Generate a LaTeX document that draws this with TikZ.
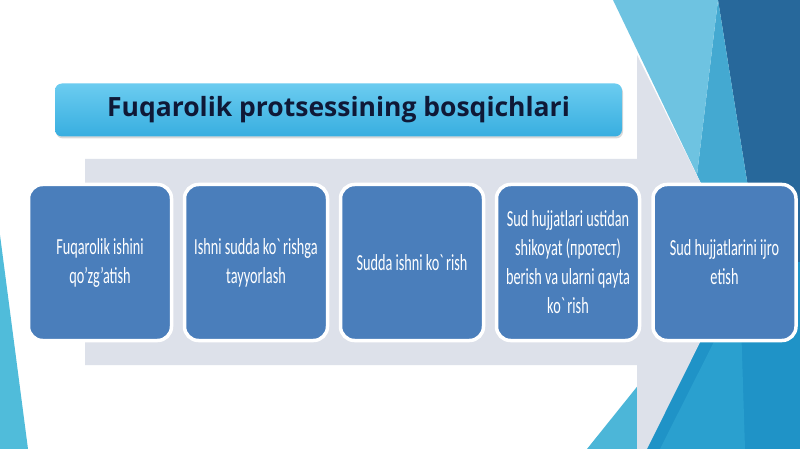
\documentclass[tikz,border=0pt]{standalone}
\usepackage{fontspec}
\usetikzlibrary{shadows}
\newfontfamily\titlefont{Open Sans}
\newfontfamily\boxfont[FakeStretch=0.62]{Carlito}
\definecolor{nodeblue}{RGB}{74,126,187}
\definecolor{arrowgray}{RGB}{221,225,234}
\definecolor{titletop}{RGB}{108,204,240}
\definecolor{titlebot}{RGB}{55,174,224}
\definecolor{titletext}{RGB}{15,25,55}
\definecolor{slivercyan}{RGB}{80,188,218}
\definecolor{facetlight}{RGB}{110,195,225}
\definecolor{facetmid}{RGB}{68,169,209}
\definecolor{facetdark}{RGB}{39,104,155}
\definecolor{facetblue}{RGB}{31,147,199}
\definecolor{facetblue2}{RGB}{42,160,207}
\definecolor{facetcyan}{RGB}{76,182,216}
\tikzset{
  stagebox/.style={draw=white, line width=3.5pt, fill=nodeblue, rounded corners=14pt,
    minimum width=143pt, minimum height=156pt, inner sep=2pt, align=center, text=white,
    font=\boxfont\fontsize{23}{29}\selectfont},
  titlebox/.style={rounded corners=7pt, top color=titletop, bottom color=titlebot, draw=none,
    minimum width=567pt, minimum height=53pt, text=titletext,
    font=\titlefont\bfseries\fontsize{26.5}{30}\selectfont,
    drop shadow={shadow xshift=1pt, shadow yshift=-2pt, opacity=0.15, fill=black}},
}
\begin{document}
\begin{tikzpicture}[x=1pt,y=-1pt]
\useasboundingbox (0,0) rectangle (800,449);
\fill[white] (0,0) rectangle (800,449);
\begin{scope}
\clip (0,0) rectangle (800,449);
% left sliver
\fill[slivercyan] (0,235) -- (28,449) -- (0,449) -- cycle;
% right facets
\fill[facetdark] (718,0) -- (800,0) -- (800,300) -- (760,262) -- cycle;
\fill[facetmid] (718,0) -- (760,262) -- (740,262) -- (697,175) -- cycle;
\fill[facetlight] (613,0) -- (718,0) -- (697,175) -- cycle;
\fill[facetblue] (646,449) -- (740,262) -- (800,262) -- (800,449) -- cycle;
\fill[facetblue2] (660,449) -- (740,290) -- (745,449) -- cycle;
\fill[facetcyan] (587,449) -- (640,383) -- (640,449) -- cycle;
% big gray arrow
\fill[arrowgray] (85,159) -- (637,159) -- (637,55) -- (740,262) -- (637,469) -- (637,365) -- (85,365) -- cycle;
\end{scope}
% title
\node[titlebox] (title) at (338.5,110) {Fuqarolik protsessining bosqichlari};
% stages
\node[stagebox] (n1) at (100,262.5) {Fuqarolik ishini\\qo’zg’atish};
\node[stagebox] (n2) at (256,262.5) {Ishni sudda ko\textasciigrave rishga\\tayyorlash};
\node[stagebox] (n3) at (412,262.5) {Sudda ishni ko\textasciigrave rish};
\node[stagebox] (n4) at (568,262.5) {Sud hujjatlari ustidan\\shikoyat (протест)\\berish va ularni qayta\\ko\textasciigrave rish};
\node[stagebox] (n5) at (724.5,262.5) {Sud hujjatlarini ijro\\etish};
\end{tikzpicture}
\end{document}
